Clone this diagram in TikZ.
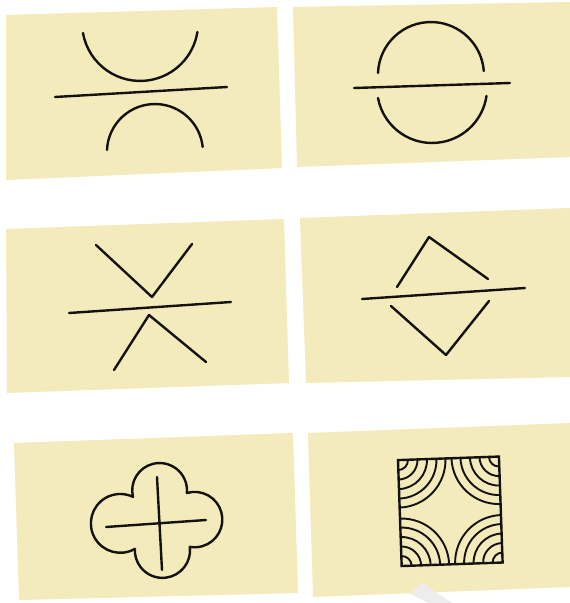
\documentclass[tikz,border=0pt]{standalone}
\definecolor{cardyellow}{RGB}{243,235,187}
\definecolor{inkc}{RGB}{20,18,15}
\begin{document}
\begin{tikzpicture}[x=1pt,y=-1pt,
  card/.style={fill=cardyellow,draw=none},
  ink/.style={draw=inkc,line width=2.4pt,line cap=round,line join=round},
  fineink/.style={draw=inkc,line width=1.9pt,line cap=round}]
\fill[white] (0,0) rectangle (570,603);
\useasboundingbox (0,0) rectangle (570,603);

% cards
\fill[card] (6,15) -- (277,7) -- (282,168) -- (6,180) -- cycle;
\fill[card] (293,7) -- (570,2) -- (570,157) -- (297,167) -- cycle;
\fill[card] (6,229) -- (284,219) -- (289,383) -- (7,393) -- cycle;
\fill[card] (300,218) -- (570,208) -- (570,377) -- (306,383) -- cycle;
\fill[card] (14,443) -- (293,433) -- (298,593) -- (19,600) -- cycle;
\fill[card] (308,433) -- (570,423) -- (570,587) -- (313,597) -- cycle;
% faint grey pointer at the bottom
\fill[gray!14] (421,582) -- (411,594) -- (428,603) -- (452,603) -- cycle;

% card 1
\draw[ink] (83,33) arc[start angle=170,end angle=9,radius=58];
\draw[ink] (55,97) -- (227,87);
\draw[ink] (107,150) arc[start angle=182.4,end angle=353.9,radius=48];

% card 2
\draw[ink] (378,73) arc[start angle=182.2,end angle=355.7,radius=53];
\draw[ink] (354,88) -- (510,83);
\draw[ink] (378,98) arc[start angle=169.5,end angle=8.3,radius=55];

% card 3
\draw[ink] (96,245) -- (152,297) -- (192,244);
\draw[ink] (69,313) -- (231,302);
\draw[ink] (114,370) -- (149,315) -- (206,362);

% card 4
\draw[ink] (397,287) -- (429,237) -- (488,279);
\draw[ink] (362,299) -- (525,288);
\draw[ink] (391,306) -- (446,355) -- (489,301);

% card 5 : quatrefoil
\draw[ink] (133,497) arc[start angle=166.1,end angle=365.4,radius=27.4]
  arc[start angle=-106.3,end angle=100,radius=27.7]
  arc[start angle=-7.1,end angle=182.9,radius=27.6]
  arc[start angle=60.2,end angle=295.4,radius=29.4] -- cycle;
\draw[ink] (157,477) -- (162,570);
\draw[ink] (106,527) -- (206,520);

% card 6 : square with corner arcs
\begin{scope}[shift={(450.3,511.3)},rotate=2]
  \draw[ink,line cap=butt,line join=miter] (-50.5,-53) rectangle (50.5,53);
  \foreach \r in {10,19.5,29,38.5,47.5}{
    \draw[fineink] (-50.5+\r,-53) arc[start angle=0,end angle=90,radius=\r];
    \draw[fineink] (50.5,-53+\r) arc[start angle=90,end angle=180,radius=\r];
    \draw[fineink] (50.5-\r,53) arc[start angle=180,end angle=270,radius=\r];
    \draw[fineink] (-50.5,53-\r) arc[start angle=270,end angle=360,radius=\r];
  }
\end{scope}
\end{tikzpicture}
\end{document}
